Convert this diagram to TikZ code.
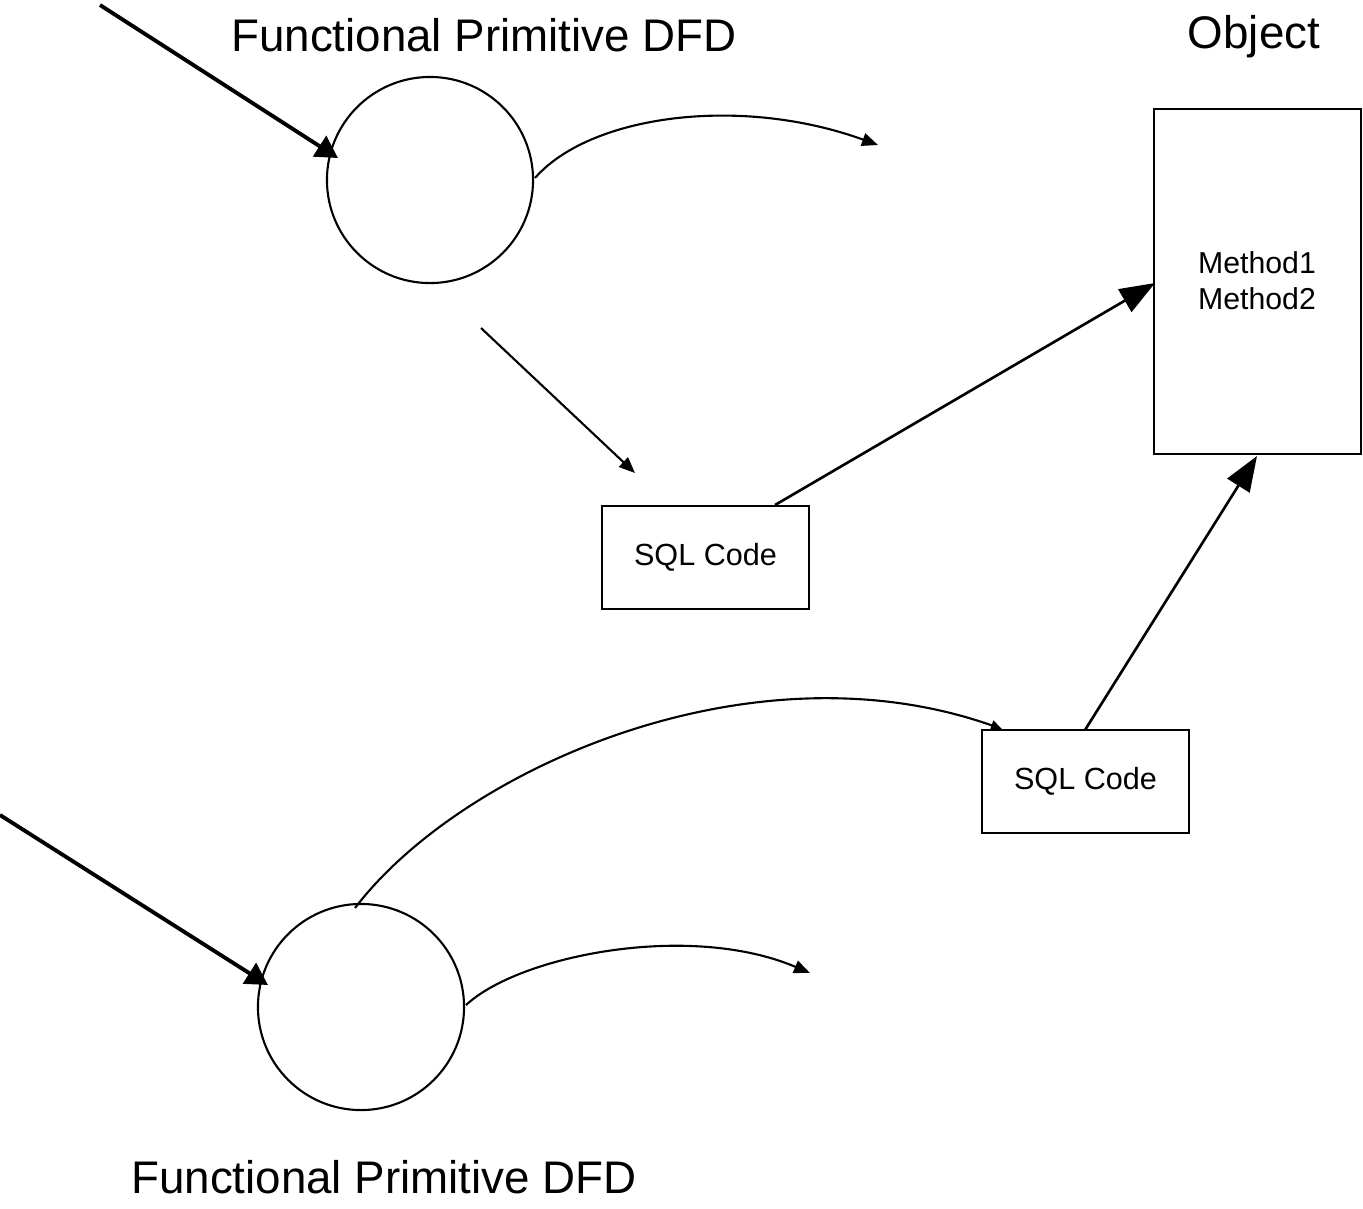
\documentclass[tikz,border=0pt]{standalone}
\usepackage{fontspec}
\setmainfont{Liberation Sans}
\usetikzlibrary{arrows.meta}
\begin{document}
\begin{tikzpicture}[x=0.01cm,y=-0.01cm,
  proc/.style={draw,circle,minimum size=2.06cm,inner sep=0pt,line width=0.6pt},
  codebox/.style={draw,rectangle,minimum width=2.07cm,minimum height=1.03cm,inner sep=0pt,line width=0.6pt,font=\fontsize{8.7}{10.4}\selectfont},
  objbox/.style={draw,rectangle,minimum width=2.07cm,minimum height=3.45cm,inner sep=0pt,line width=0.6pt},
  title/.style={font=\fontsize{13}{15}\selectfont},
  thickflow/.style={line width=1.1pt,-{Triangle[length=0.22cm,width=0.24cm]}},
  bigflow/.style={line width=0.75pt,-{Triangle[length=0.35cm,width=0.26cm]}},
  flow/.style={line width=0.6pt,-{Triangle[length=0.16cm,width=0.13cm]}},
  smallflow/.style={line width=0.6pt,-{Triangle[length=0.11cm,width=0.1cm]}}]
\useasboundingbox (0,0) rectangle (1363,1208);
% nodes
\node[proc] (c1) at (430,180) {};
\node[proc] (c2) at (361,1007) {};
\node[codebox] (sql1) at (705.5,557.5) {SQL Code};
\node[codebox] (sql2) at (1085.5,781.5) {SQL Code};
\node[objbox] (obj) at (1257.5,281.5) {};
\node[font=\fontsize{8.6}{10.2}\selectfont,align=center,anchor=center] (meth) at (1257,281) {Method1\\Method2};
\node[title] (t1) at (484,35) {Functional Primitive DFD};
\node[title] (t2) at (384,1177) {Functional Primitive DFD};
\node[title] (tobj) at (1254,37) {Object};
% free ends
\coordinate (in1) at (100,5);
\coordinate (in1e) at (338,158);
\coordinate (in2) at (0,815);
\coordinate (in2e) at (268,985);
\coordinate (o1s) at (535,178);
\coordinate (o1e) at (878,145);
\coordinate (o3s) at (466,1005);
\coordinate (o3e) at (810,973);
\coordinate (o2s) at (355,908);
\coordinate (o2e) at (1002,729);
\coordinate (ds) at (481,328);
\coordinate (de) at (635,473);
\coordinate (s1top) at (775,505);
\coordinate (objleft) at (1155,283);
\coordinate (s2top) at (1085,730);
\coordinate (objbot) at (1257,456);
% connectors
\draw[thickflow] (in1) -- (in1e);
\draw[thickflow] (in2) -- (in2e);
\draw[flow] (o1s) .. controls (590,115) and (740,95) .. (o1e);
\draw[flow] (o3s) .. controls (520,955) and (690,922) .. (o3e);
\draw[smallflow] (o2s) .. controls (460,770) and (750,640) .. (o2e);
\draw[flow] (ds) -- (de);
\draw[bigflow] (s1top) -- (objleft);
\draw[bigflow] (s2top) -- (objbot);
\end{tikzpicture}
\end{document}
